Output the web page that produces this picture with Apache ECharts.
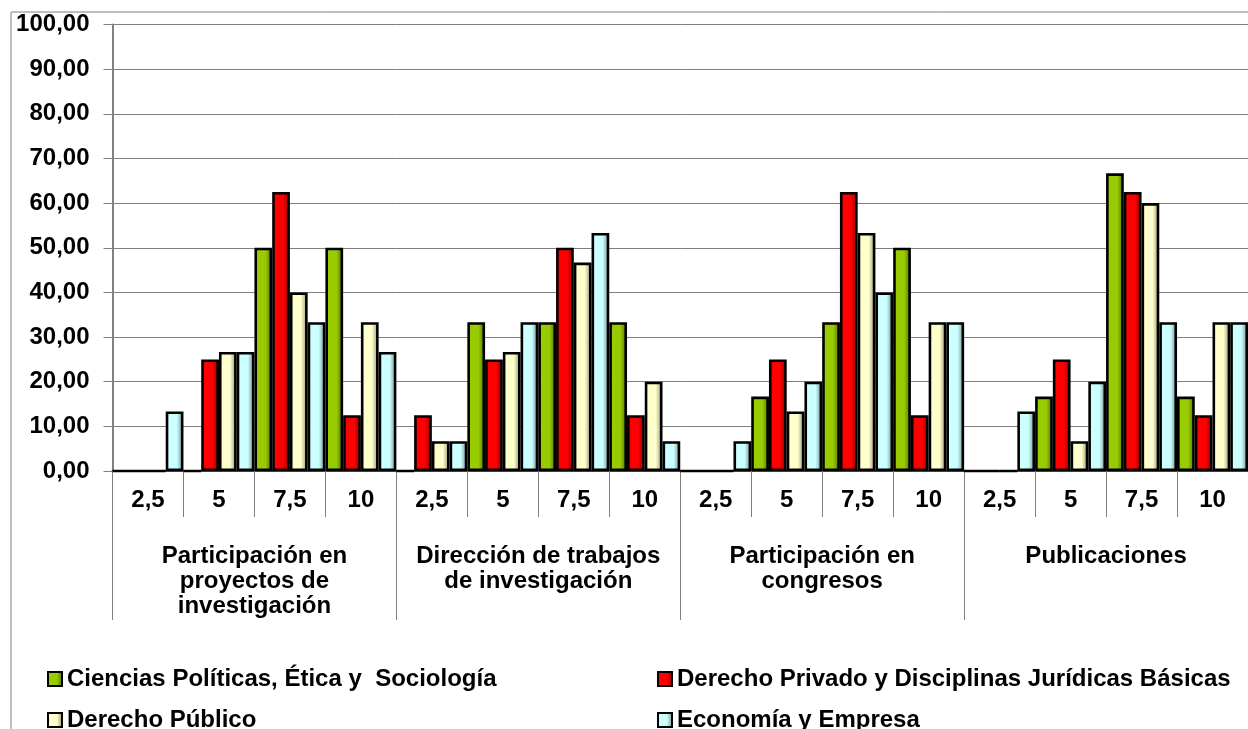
<!DOCTYPE html>
<html>
<head>
<meta charset="utf-8">
<script src="https://cdn.jsdelivr.net/npm/echarts@6/dist/echarts.min.js"></script>
<style>
html,body{margin:0;padding:0;background:#fff;}
#chart{width:1248px;height:729px;}
</style>
</head>
<body>
<div id="chart"></div>
<script>
// ---- data ----
var groups = ['Participación en\nproyectos de\ninvestigación', 'Dirección de trabajos\nde investigación', 'Participación en\ncongresos', 'Publicaciones'];
var subCategories = ['2,5', '5', '7,5', '10'];
var seriesNames = ['Ciencias Políticas, Ética y  Sociología', 'Derecho Privado y Disciplinas Jurídicas Básicas', 'Derecho Público', 'Economía y Empresa'];
// values per group, in sub-category order 2,5 / 5 / 7,5 / 10
var cienciasPoliticas = [0, 0, 50, 50,   0, 33.33, 33.33, 33.33,   0, 16.67, 33.33, 50,   0, 16.67, 66.67, 16.67];
var derechoPrivado    = [0, 25, 62.5, 12.5,   12.5, 25, 50, 12.5,   0, 25, 62.5, 12.5,   0, 25, 62.5, 12.5];
var derechoPublico    = [0, 26.67, 40, 33.33,   6.67, 26.67, 46.67, 20,   0, 13.33, 53.33, 33.33,   0, 6.67, 60, 33.33];
var economiaEmpresa   = [13.33, 26.67, 33.33, 26.67,   6.67, 33.33, 53.33, 6.67,   6.67, 20, 40, 33.33,   13.33, 20, 33.33, 33.33];
var yTicks = [0, 10, 20, 30, 40, 50, 60, 70, 80, 90, 100];

var baseColors = ['#99CC00', '#FF0000', '#FFFFCC', '#CCFFFF'];
var darkColors = ['#4F6900', '#8A0000', '#8C8C70', '#6E8C8C'];
var midColors  = ['#80AA00', '#D90000', '#DCDCB0', '#B0DCDC'];

var catAxisData = [];
groups.forEach(function () { subCategories.forEach(function (s) { catAxisData.push(s); }); });

function grad(i) {
  return new echarts.graphic.LinearGradient(0, 0, 1, 0, [
    {offset: 0, color: midColors[i]},
    {offset: 0.15, color: baseColors[i]},
    {offset: 0.62, color: baseColors[i]},
    {offset: 1, color: darkColors[i]}
  ]);
}

var allValues = [cienciasPoliticas, derechoPrivado, derechoPublico, economiaEmpresa];
var FONT = '"Liberation Sans", Arial, sans-serif';

var series = allValues.map(function (vals, i) {
  return {
    name: seriesNames[i],
    type: 'bar',
    xAxisIndex: 0,
    yAxisIndex: 0,
    data: vals,
    barGap: '0%',
    barCategoryGap: '0%',
    itemStyle: {color: grad(i), borderColor: '#000', borderWidth: 2.6},
    emphasis: {disabled: true}
  };
});

var legendPos = [[42, 662], [652, 662], [42, 703], [652, 703]];
var legends = seriesNames.map(function (n, i) {
  return {
    data: [n],
    left: legendPos[i][0],
    top: legendPos[i][1],
    icon: 'rect',
    itemWidth: 14,
    itemHeight: 14,
    selectedMode: false,
    itemStyle: {borderColor: '#000', borderWidth: 2},
    textStyle: {fontFamily: FONT, fontWeight: 'bold', fontSize: 24, color: '#000', lineHeight: 24}
  };
});

var chart = echarts.init(document.getElementById('chart'), null, {renderer: 'canvas'});
chart.setOption({
  animation: false,
  backgroundColor: '#fff',
  grid: {left: 112.5, right: -3.5, top: 24.5, bottom: 729 - 471},
  legend: legends,
  graphic: [{
    type: 'rect',
    left: 8.5, top: 9.5,
    shape: {width: 1300, height: 800},
    style: {fill: 'none', stroke: '#7f7f7f', lineWidth: 1},
    silent: true, z: -1
  }],
  xAxis: [{
    type: 'category',
    data: catAxisData,
    position: 'bottom',
    boundaryGap: true,
    axisLine: {show: true, lineStyle: {color: '#404040', width: 2}},
    axisTick: {show: true, length: 46, lineStyle: {color: '#808080', width: 1}},
    axisLabel: {interval: 0, margin: 17, fontFamily: FONT, fontWeight: 'bold', fontSize: 24, lineHeight: 25, color: '#000'},
    splitLine: {show: false}
  }, {
    type: 'category',
    data: groups,
    position: 'bottom',
    offset: 0,
    boundaryGap: true,
    axisLine: {show: false},
    axisTick: {show: true, length: 149, lineStyle: {color: '#808080', width: 1}},
    axisLabel: {interval: 0, margin: 73, fontFamily: FONT, fontWeight: 'bold', fontSize: 24, lineHeight: 25, color: '#000', align: 'center'},
    splitLine: {show: false}
  }],
  yAxis: {
    type: 'value',
    min: yTicks[0],
    max: yTicks[yTicks.length - 1],
    interval: 10,
    axisLine: {show: true, lineStyle: {color: '#808080', width: 2}},
    axisTick: {show: true, length: 9, lineStyle: {color: '#808080'}},
    axisLabel: {
      margin: 23,
      fontFamily: FONT, fontWeight: 'bold', fontSize: 24, color: '#000',
      formatter: function (v) { return v.toFixed(2).replace('.', ','); }
    },
    splitLine: {show: true, lineStyle: {color: '#7f7f7f', width: 1}}
  },
  series: series
});
</script>
</body>
</html>
